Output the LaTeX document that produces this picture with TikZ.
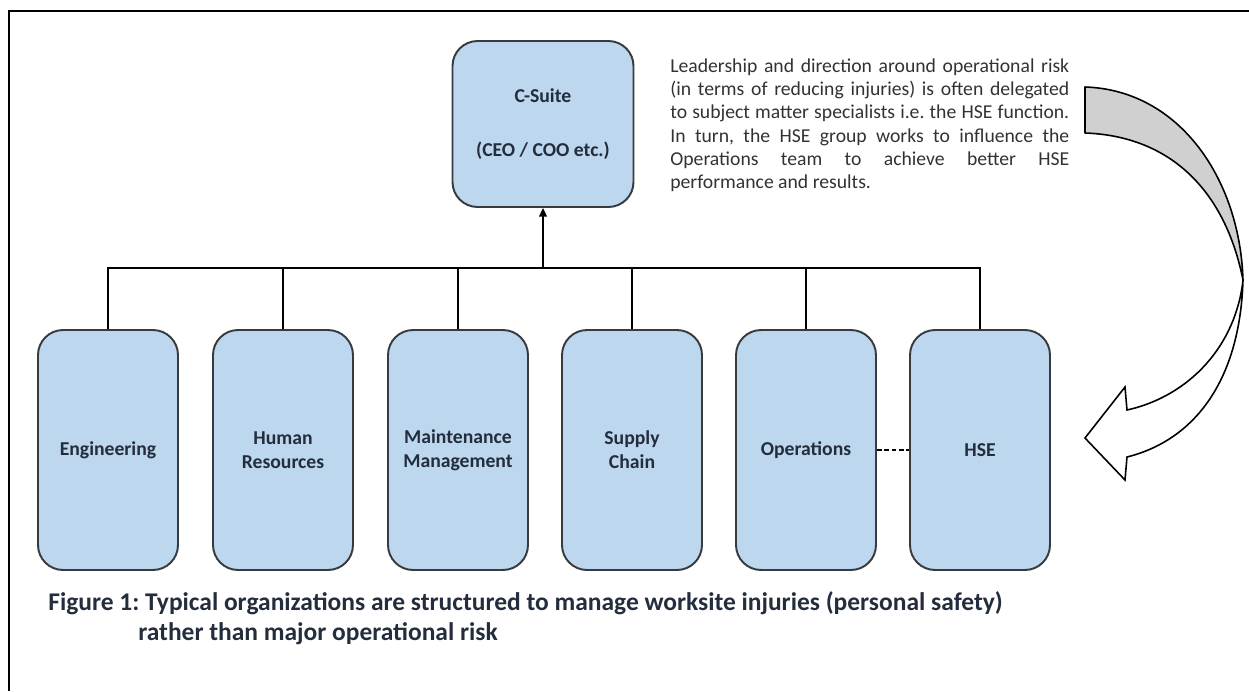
\documentclass[tikz,border=0pt]{standalone}
\usepackage{fontspec}
\setmainfont{Carlito}
\usetikzlibrary{arrows.meta}
\definecolor{boxblue}{RGB}{189,215,238}
\definecolor{boxline}{RGB}{55,58,62}
\definecolor{boxtext}{RGB}{35,45,60}
\definecolor{bodytext}{RGB}{50,50,50}
\definecolor{backgray}{RGB}{208,208,208}
\begin{document}
\frenchspacing
\begin{tikzpicture}[x=0.02cm, y=-0.02cm,
    unit/.style={draw=boxline, fill=boxblue, line width=1.1pt, rounded corners=0.5cm,
        minimum width=2.8cm, minimum height=4.8cm, align=center,
        text=boxtext, font=\bfseries\fontsize{11.2}{13.5}\selectfont},
    link/.style={line width=0.9pt, draw=black}]
\useasboundingbox (0,0) rectangle (1249,691);
% frame, open to the right and below
\draw[line width=1.1pt] (9,691) -- (9,11) -- (1249,11);
% top box
\node[unit, minimum width=3.62cm, minimum height=3.32cm] (csuite) at (543,124)
    {C-Suite\\[17pt](CEO / COO etc.)};
% departments
\node[unit] (eng) at (108,450) {Engineering};
\node[unit] (hr) at (283,450) {Human\\Resources};
\node[unit] (maint) at (458,450) {Maintenance\\Management};
\node[unit] (supply) at (632,450) {Supply\\Chain};
\node[unit] (ops) at (806,450) {Operations};
\node[unit] (hse) at (980,450) {HSE};
% reporting lines
\coordinate (bus) at (543,268);
\draw[link] (eng.north) |- (bus) -| (hse.north);
\draw[link] (hr.north) -- (hr.north |- bus);
\draw[link] (maint.north) -- (maint.north |- bus);
\draw[link] (supply.north) -- (supply.north |- bus);
\draw[link] (ops.north) -- (ops.north |- bus);
\draw[link, -{Triangle[length=5pt, width=4.5pt]}] (bus) -- (csuite.south);
\draw[link, dash pattern=on 2.6pt off 1.6pt] (ops.east) -- (hse.west);
% note
\node[anchor=north west, inner sep=0pt, text width=7.98cm, align=justify,
    text=bodytext, font=\fontsize{11.2}{13.3}\selectfont] (note) at (670,58)
    {Leadership and direction around operational risk\linebreak
     (in terms of reducing injuries) is often delegated\linebreak
     to subject matter specialists i.e. the HSE function.\linebreak
     In turn, the HSE group works to influence the\linebreak
     Operations team to achieve better HSE\linebreak
     performance and results.};
% turning arrow
\draw[line width=0.9pt, fill=backgray, line join=round]
    (1085,87) .. controls (1180,90) and (1240,180) .. (1243,280)
    .. controls (1225,190) and (1170,136) .. (1085,133) -- cycle;
\draw[line width=0.9pt, fill=white, line join=miter]
    (1243,280) .. controls (1240,380) and (1195,440) .. (1127,457)
    -- (1125,480) -- (1085,438) -- (1125,387) -- (1127,410)
    .. controls (1190,396) and (1236,345) .. (1243,280);
% caption
\node[anchor=west, inner sep=0pt, align=left, text=boxtext,
    font=\bfseries\fontsize{14.5}{17}\selectfont] (caption) at (48,618)
    {Figure 1: Typical organizations are structured to manage worksite injuries (personal safety)\\%
     \hspace*{1.8cm}rather than major operational risk};
\end{tikzpicture}
\end{document}
